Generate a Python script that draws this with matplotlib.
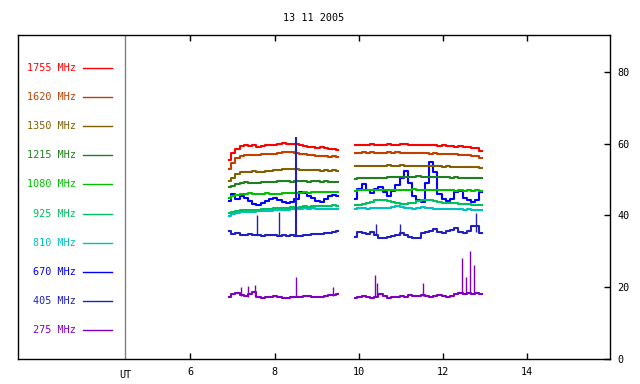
import numpy as np
import matplotlib
matplotlib.use("Agg")
import matplotlib.pyplot as plt

plt.rcParams['font.family'] = ['DejaVu Sans Mono']

title = "13 11 2005"
freqs = ["1755", "1620", "1350", "1215", "1080", "925", "810", "670", "405", "275"]
colors = ["#ff0000", "#c04000", "#806000", "#208020", "#00c000",
          "#00c060", "#00c0c0", "#0000ff", "#2020c0", "#8000c0"]

# sampling of the two recording blocks (UT hours)
t1 = np.arange(27) * 0.1 + 6.92
t2 = np.arange(31) * 0.1 + 9.92

s1755_a = [55.5, 57.5, 58.5, 59.3, 59.5, 59.3, 59.5, 59.2, 59.4, 59.6, 59.7, 59.5, 59.9, 60.1,
           60.0, 59.8, 60.0, 59.7, 59.4, 59.2, 59.0, 58.9, 59.0, 58.8, 58.5, 58.6, 58.3]
s1755_b = [59.5, 59.6, 59.7, 59.6, 59.8, 59.7, 59.6, 59.7, 59.8, 59.7, 59.6, 59.8, 59.9, 59.7,
           59.6, 59.7, 59.6, 59.5, 59.6, 59.5, 59.4, 59.5, 59.4, 59.3, 59.2, 59.3, 59.1, 59.0,
           58.9, 58.7, 58.0]
s1620_a = [53.0, 54.5, 56.0, 56.5, 56.8, 56.9, 56.8, 56.9, 57.0, 57.0, 57.1, 57.0, 57.3, 57.7,
           57.8, 57.6, 57.5, 57.2, 57.0, 56.8, 56.9, 56.6, 56.7, 56.5, 56.4, 56.5, 56.3]
s1620_b = [57.4, 57.5, 57.6, 57.5, 57.6, 57.5, 57.4, 57.5, 57.6, 57.5, 57.6, 57.5, 57.4, 57.5,
           57.4, 57.3, 57.4, 57.3, 57.2, 57.3, 57.2, 57.1, 57.0, 57.1, 57.0, 56.9, 56.8, 56.9,
           56.7, 56.5, 56.0]
s1350_a = [49.5, 50.3, 51.5, 52.0, 52.2, 52.1, 52.3, 52.2, 52.1, 52.4, 52.5, 52.6, 52.8, 53.0,
           52.9, 52.9, 53.0, 52.8, 52.7, 52.8, 52.6, 52.7, 52.5, 52.6, 52.5, 52.6, 52.4]
s1350_b = [53.7, 53.8, 53.8, 53.9, 53.8, 53.9, 53.8, 53.9, 54.0, 53.9, 53.9, 54.0, 53.9, 53.8,
           53.9, 53.8, 53.9, 53.8, 53.7, 53.8, 53.7, 53.6, 53.7, 53.6, 53.5, 53.6, 53.5, 53.4,
           53.5, 53.4, 53.3]
s1215_a = [47.8, 48.2, 48.9, 49.1, 49.2, 49.1, 49.0, 49.1, 49.3, 49.2, 49.3, 49.4, 49.5, 49.5,
           49.6, 49.4, 49.5, 49.6, 49.5, 49.4, 49.5, 49.6, 49.4, 49.5, 49.3, 49.4, 49.3]
s1215_b = [50.2, 50.3, 50.4, 50.3, 50.4, 50.5, 50.4, 50.5, 50.6, 50.7, 50.6, 50.7, 50.8, 50.7,
           50.8, 50.9, 50.8, 50.7, 50.8, 50.7, 50.6, 50.7, 50.6, 50.5, 50.6, 50.5, 50.4, 50.5,
           50.4, 50.5, 50.4]
s1080_a = [45.0, 45.5, 45.8, 45.9, 46.0, 46.2, 46.0, 46.1, 46.0, 46.2, 46.1, 46.0, 46.1, 46.2,
           46.3, 46.2, 46.3, 46.2, 46.4, 46.3, 46.4, 46.5, 46.4, 46.5, 46.6, 46.5, 46.6]
s1080_b = [46.9, 47.0, 47.1, 47.0, 47.1, 47.0, 47.1, 47.2, 47.1, 47.0, 47.1, 47.2, 47.1, 47.2,
           47.3, 47.2, 47.1, 47.2, 47.1, 47.0, 47.1, 47.0, 47.1, 47.0, 46.9, 47.0, 46.9, 47.0,
           46.9, 47.0, 46.9]
s925_a = [40.8, 41.0, 41.3, 41.5, 41.4, 41.6, 41.5, 41.6, 41.7, 41.8, 41.9, 42.0, 42.0, 42.1,
          42.2, 42.3, 42.2, 42.4, 42.5, 42.4, 42.5, 42.6, 42.5, 42.7, 42.6, 42.8, 42.6]
s925_b = [42.8, 43.0, 43.2, 43.5, 43.8, 44.2, 44.4, 44.3, 44.0, 43.8, 43.6, 43.3, 43.2, 43.4,
          43.6, 44.0, 44.3, 44.4, 44.2, 44.0, 43.8, 43.6, 43.5, 43.4, 43.5, 43.3, 43.2, 43.1,
          43.0, 42.9, 42.8]
s810_a = [39.8, 40.3, 40.7, 40.9, 41.0, 41.1, 41.1, 41.2, 41.2, 41.3, 41.3, 41.4, 41.5, 41.6,
          41.6, 41.7, 41.8, 41.9, 42.0, 41.9, 42.0, 41.9, 41.8, 41.9, 41.8, 41.7, 41.8]
s810_b = [41.9, 42.0, 42.0, 41.9, 42.0, 42.1, 42.0, 42.1, 42.2, 42.4, 42.5, 42.3, 42.1, 42.0,
          41.9, 42.0, 42.3, 42.2, 42.0, 41.9, 41.8, 41.9, 41.8, 41.7, 41.8, 41.7, 41.6, 41.7,
          41.6, 41.5, 41.4]
s670_a = [44.0, 46.0, 44.5, 45.5, 45.0, 44.0, 43.2, 42.8, 43.5, 44.0, 44.5, 45.0, 44.2, 43.8,
          43.6, 43.8, 44.5, 46.5, 46.2, 45.5, 44.8, 44.0, 43.8, 44.5, 45.5, 45.8, 45.5]
s670_b = [44.5, 47.5, 48.8, 47.0, 46.2, 47.5, 48.0, 46.5, 45.5, 46.8, 48.5, 50.5, 52.5, 49.0,
          45.5, 44.2, 43.8, 49.0, 55.0, 52.0, 46.0, 44.5, 44.0, 44.5, 46.5, 46.8, 45.0, 44.3,
          43.8, 44.2, 46.5]
s405_a = [35.6, 34.8, 35.0, 34.6, 34.5, 34.7, 34.5, 34.6, 34.4, 34.5, 34.6, 34.5, 34.4, 34.5,
          34.3, 34.6, 34.2, 34.4, 34.5, 34.6, 34.7, 34.8, 34.9, 35.0, 35.1, 35.3, 35.6]
s405_b = [34.0, 35.5, 35.2, 34.8, 35.5, 34.5, 33.8, 33.6, 34.0, 34.2, 34.5, 35.0, 34.6, 34.0,
          33.6, 33.8, 35.0, 35.5, 35.8, 36.3, 35.5, 35.0, 35.6, 36.0, 36.6, 35.5, 35.0, 35.8,
          37.0, 37.2, 35.0]
s275_a = [17.3, 18.0, 18.5, 17.8, 17.5, 18.2, 18.6, 17.2, 17.0, 17.2, 17.3, 17.5, 17.2, 17.0,
          17.1, 17.3, 17.4, 17.2, 17.5, 17.6, 17.4, 17.4, 17.3, 17.5, 17.8, 17.9, 18.0]
s275_b = [17.0, 17.2, 17.5, 17.2, 17.0, 17.3, 18.0, 17.5, 17.0, 17.2, 17.4, 17.6, 17.3, 17.8,
          17.5, 17.6, 17.8, 17.5, 17.3, 17.6, 17.9, 17.5, 17.4, 17.6, 18.2, 18.5, 18.0, 18.4,
          18.2, 18.3, 18.1]

# short bursts: (UT, low, high)
spikes_405 = [(7.59, 34.5, 40.1), (8.10, 34.4, 41.1), (8.50, 34.3, 62.0),
              (10.41, 34.5, 37.5), (10.98, 34.6, 37.5), (12.79, 35.5, 40.6)]
spikes_275 = [(7.20, 17.5, 20.0), (7.36, 17.2, 20.3), (7.54, 17.5, 20.6), (8.50, 17.2, 22.8),
              (9.39, 17.5, 20.1), (10.39, 17.3, 23.4), (10.44, 17.3, 21.1), (11.54, 17.5, 21.2),
              (12.46, 18.2, 28.2), (12.54, 18.2, 22.9), (12.64, 18.2, 30.1), (12.75, 18.2, 26.2)]

series = {
    "1755": (s1755_a, s1755_b), "1620": (s1620_a, s1620_b), "1350": (s1350_a, s1350_b),
    "1215": (s1215_a, s1215_b), "1080": (s1080_a, s1080_b), "925": (s925_a, s925_b),
    "810": (s810_a, s810_b), "670": (s670_a, s670_b), "405": (s405_a, s405_b),
    "275": (s275_a, s275_b),
}

fig = plt.figure(figsize=(6.4, 3.84), dpi=100)
ax = fig.add_axes([18.3 / 640, 25 / 384, 592 / 640, 323.7 / 384])
ax.set_xlim(1.91, 15.98)
ax.set_ylim(0, 90.2)

for f, c in zip(freqs[::-1], colors[::-1]):
    a, b = series[f]
    ax.plot(t1, a, color=c, lw=1.5, drawstyle="steps-mid")
    ax.plot(t2, b, color=c, lw=1.5, drawstyle="steps-mid")

for t, lo, hi in spikes_405:
    ax.vlines(t, lo, hi, color=colors[8], lw=1.5 if hi > 50 else 1)
for t, lo, hi in spikes_275:
    ax.vlines(t, lo, hi, color=colors[9], lw=1)

ax.axvline(4.456, color="#808080", lw=1)

# legend column on the left
for i, (f, c) in enumerate(zip(freqs, colors)):
    y = 1 - (68 - 35.3 + i * 29.1) / 323.7
    ax.text(58 / 592, y, f + " MHz", color=c, fontsize=7.3, ha="right", va="center",
            transform=ax.transAxes)
    ax.plot([65 / 592, 94 / 592], [y, y], color=c, lw=1, transform=ax.transAxes)

ax.set_xticks([6, 8, 10, 12, 14])
ax.set_xticklabels(["6", "8", "10", "12", "14"])
ax.tick_params(axis="x", direction="in", top=True, bottom=True, length=4, width=1,
               labelsize=7.3, pad=6)
ax.text(4.456, -0.035, "UT", transform=ax.get_xaxis_transform(), ha="center", va="top",
        fontsize=7.3)
ax.yaxis.tick_right()
ax.set_yticks([0, 20, 40, 60, 80])
ax.tick_params(axis="y", direction="in", length=4, width=1, labelsize=7.3, pad=5,
               left=False, right=True)
for sp in ax.spines.values():
    sp.set_linewidth(1)

fig.text(314 / 640, 1 - 18 / 384, title, ha="center", va="center", fontsize=7.3)

fig.savefig("out.png", dpi=100)
